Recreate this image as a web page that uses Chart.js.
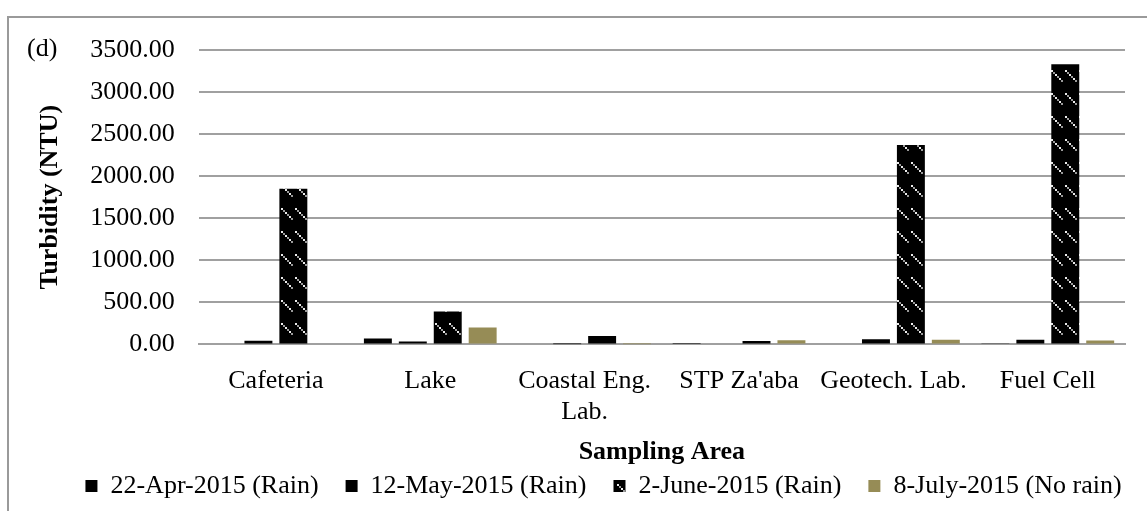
<!DOCTYPE html>
<html>
<head>
<meta charset="utf-8">
<script src="https://cdn.jsdelivr.net/npm/chart.js@4.4.1/dist/chart.umd.min.js"></script>
<style>
    html, body { margin: 0; padding: 0; background: #fff; }
    #wrap { position: relative; width: 1147px; height: 511px; overflow: hidden; }
    #frame { position: absolute; left: 7px; top: 16px; width: 1160px; height: 520px; border: 2px solid #9a9a9a; box-sizing: border-box; }
    #tag { position: absolute; left: 27px; top: 33px; font: 26px "Liberation Serif", "Times New Roman", serif; color: #000; }
    #chart { position: absolute; left: 0; top: 0; }
</style>
</head>
<body>
<div id="wrap">
    <div id="frame"></div>
    <canvas id="chart" width="1147" height="511"></canvas>
    <div id="tag">(d)</div>
</div>
<script>
// Categorías (zonas de muestreo)
const areas = ['Cafeteria', 'Lake', ['Coastal Eng.', 'Lab.'], "STP Za'aba", 'Geotech. Lab.', 'Fuel Cell'];

// Turbidez (NTU) por fecha de muestreo
const apr22 = [12, 70, 0, 18, 10, 15];
const may12 = [42, 35, 3, 12, 60, 55];
const jun2 = [1850, 390, 100, 40, 2370, 3330];
const jul8 = [0, 200, 3, 50, 55, 45];

const seriesNames = ['22-Apr-2015 (Rain)', '12-May-2015 (Rain)', '2-June-2015 (Rain)', '8-July-2015 (No rain)'];

const SERIF = '"Liberation Serif", "Times New Roman", serif';
const OLIVE = '#968c56';

// Trama negra con líneas diagonales punteadas (2-June)
const makeHatch = () => {
    const c = document.createElement('canvas');
    c.width = 14;
    c.height = 23;
    const g = c.getContext('2d');
    g.fillStyle = '#000';
    g.fillRect(0, 0, c.width, c.height);
    for (let i = 0; i < 6; i++) {
        g.fillStyle = i % 2 ? '#9a9a9a' : '#ececec';
        g.fillRect(1 + i * 2, 1 + i * 2, 2, 2);
    }
    return g.createPattern(c, 'repeat');
};

const ctx = document.getElementById('chart').getContext('2d');
const hatch = makeHatch();

// Desplaza la leyenda para centrarla como en el original
const legendShift = {
    id: 'legendShift',
    afterLayout: (chart) => {
        chart.legend.left += 30;
        chart.legend.right += 30;
    }
};

new Chart(ctx, {
    type: 'bar',
    data: {
        labels: areas,
        datasets: [
            { label: seriesNames[0], data: apr22, backgroundColor: '#000' },
            { label: seriesNames[1], data: may12, backgroundColor: '#000' },
            { label: seriesNames[2], data: jun2, backgroundColor: hatch },
            { label: seriesNames[3], data: jul8, backgroundColor: OLIVE }
        ]
    },
    options: {
        responsive: false,
        animation: false,
        categoryPercentage: 0.905,
        barPercentage: 0.8,
        layout: {
            padding: { left: 22, right: 22, top: 50, bottom: 2 }
        },
        plugins: {
            legend: {
                position: 'bottom',
                labels: {
                    boxWidth: 12,
                    boxHeight: 12,
                    padding: 27,
                    color: '#000',
                    font: { family: SERIF, size: 26 }
                }
            },
            tooltip: { enabled: false }
        },
        scales: {
            x: {
                grid: { display: false, drawTicks: false },
                border: { color: '#a0a0a0', width: 2 },
                ticks: {
                    color: '#000',
                    padding: 21,
                    maxRotation: 0,
                    autoSkip: false,
                    font: { family: SERIF, size: 26, lineHeight: 1.2 }
                },
                title: {
                    display: true,
                    text: 'Sampling Area',
                    color: '#000',
                    padding: { top: -12, bottom: -22 },
                    font: { family: SERIF, size: 26, weight: 'bold', lineHeight: 1.2 }
                }
            },
            y: {
                min: 0,
                max: 3500,
                grid: { color: '#a0a0a0', lineWidth: 2, drawTicks: false },
                border: { display: false },
                ticks: {
                    stepSize: 500,
                    color: '#000',
                    padding: 24,
                    font: { family: SERIF, size: 26 },
                    callback: (value) => value.toFixed(2)
                },
                title: {
                    display: true,
                    text: 'Turbidity (NTU)',
                    color: '#000',
                    padding: { top: 13, bottom: 0 },
                    font: { family: SERIF, size: 26, weight: 'bold', lineHeight: 1.2 }
                }
            }
        }
    },
    plugins: [legendShift]
});
</script>
</body>
</html>
